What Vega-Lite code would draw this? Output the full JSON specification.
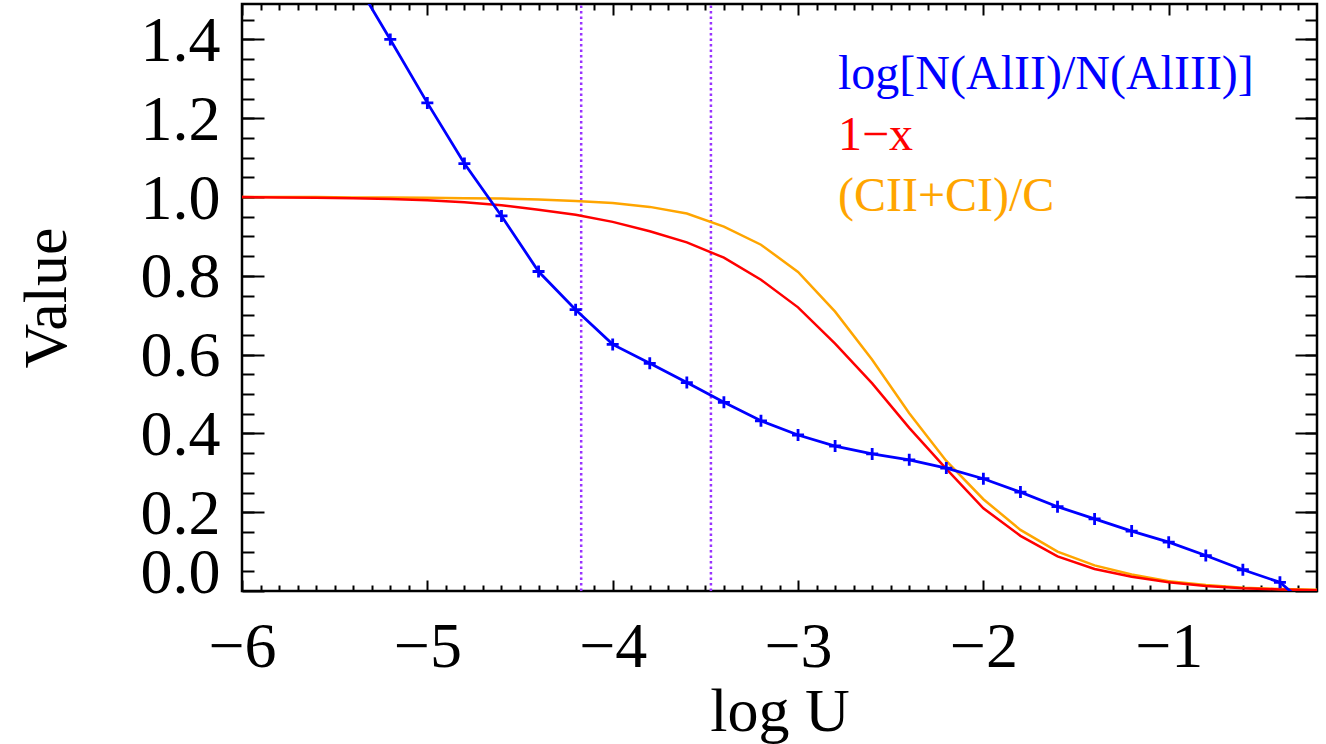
{
  "$schema": "https://vega.github.io/schema/vega-lite/v6.json",
  "width": 1075,
  "height": 587,
  "autosize": "none",
  "padding": {"left": 242, "top": 4, "right": 9, "bottom": 153},
  "background": "white",
  "config": {
    "view": {"stroke": "black", "strokeWidth": 2.5},
    "axis": {
      "grid": false, "domain": false,
      "labelFont": "Liberation Serif", "labelFontSize": 64, "labelColor": "black",
      "tickColor": "black", "tickWidth": 2,
      "titleFont": "Liberation Serif", "titleFontSize": 62, "titleFontWeight": "normal", "titleColor": "black",
      "labelFlush": false, "labelOverlap": false, "labelBound": false
    }
  },
  "datasets": {
    "curves": [
      {"series": "log[N(AlII)/N(AlIII)]", "logU": -5.4, "value": 1.558},
      {"series": "log[N(AlII)/N(AlIII)]", "logU": -5.2, "value": 1.400},
      {"series": "log[N(AlII)/N(AlIII)]", "logU": -5.0, "value": 1.239},
      {"series": "log[N(AlII)/N(AlIII)]", "logU": -4.8, "value": 1.085},
      {"series": "log[N(AlII)/N(AlIII)]", "logU": -4.6, "value": 0.952},
      {"series": "log[N(AlII)/N(AlIII)]", "logU": -4.4, "value": 0.811},
      {"series": "log[N(AlII)/N(AlIII)]", "logU": -4.2, "value": 0.714},
      {"series": "log[N(AlII)/N(AlIII)]", "logU": -4.0, "value": 0.626},
      {"series": "log[N(AlII)/N(AlIII)]", "logU": -3.8, "value": 0.578},
      {"series": "log[N(AlII)/N(AlIII)]", "logU": -3.6, "value": 0.529},
      {"series": "log[N(AlII)/N(AlIII)]", "logU": -3.4, "value": 0.479},
      {"series": "log[N(AlII)/N(AlIII)]", "logU": -3.2, "value": 0.432},
      {"series": "log[N(AlII)/N(AlIII)]", "logU": -3.0, "value": 0.396},
      {"series": "log[N(AlII)/N(AlIII)]", "logU": -2.8, "value": 0.368},
      {"series": "log[N(AlII)/N(AlIII)]", "logU": -2.6, "value": 0.348},
      {"series": "log[N(AlII)/N(AlIII)]", "logU": -2.4, "value": 0.333},
      {"series": "log[N(AlII)/N(AlIII)]", "logU": -2.2, "value": 0.312},
      {"series": "log[N(AlII)/N(AlIII)]", "logU": -2.0, "value": 0.285},
      {"series": "log[N(AlII)/N(AlIII)]", "logU": -1.8, "value": 0.251},
      {"series": "log[N(AlII)/N(AlIII)]", "logU": -1.6, "value": 0.214},
      {"series": "log[N(AlII)/N(AlIII)]", "logU": -1.4, "value": 0.183},
      {"series": "log[N(AlII)/N(AlIII)]", "logU": -1.2, "value": 0.152},
      {"series": "log[N(AlII)/N(AlIII)]", "logU": -1.0, "value": 0.124},
      {"series": "log[N(AlII)/N(AlIII)]", "logU": -0.8, "value": 0.090},
      {"series": "log[N(AlII)/N(AlIII)]", "logU": -0.6, "value": 0.054},
      {"series": "log[N(AlII)/N(AlIII)]", "logU": -0.4, "value": 0.022},
      {"series": "log[N(AlII)/N(AlIII)]", "logU": -0.2, "value": -0.058},
      {"series": "1−x", "logU": -6.0, "value": 1.000},
      {"series": "1−x", "logU": -5.8, "value": 0.999},
      {"series": "1−x", "logU": -5.6, "value": 0.998},
      {"series": "1−x", "logU": -5.4, "value": 0.997},
      {"series": "1−x", "logU": -5.2, "value": 0.995},
      {"series": "1−x", "logU": -5.0, "value": 0.992},
      {"series": "1−x", "logU": -4.8, "value": 0.987},
      {"series": "1−x", "logU": -4.6, "value": 0.979},
      {"series": "1−x", "logU": -4.4, "value": 0.968},
      {"series": "1−x", "logU": -4.2, "value": 0.955},
      {"series": "1−x", "logU": -4.0, "value": 0.937},
      {"series": "1−x", "logU": -3.8, "value": 0.913},
      {"series": "1−x", "logU": -3.6, "value": 0.885},
      {"series": "1−x", "logU": -3.4, "value": 0.846},
      {"series": "1−x", "logU": -3.2, "value": 0.790},
      {"series": "1−x", "logU": -3.0, "value": 0.720},
      {"series": "1−x", "logU": -2.8, "value": 0.628},
      {"series": "1−x", "logU": -2.6, "value": 0.527},
      {"series": "1−x", "logU": -2.4, "value": 0.414},
      {"series": "1−x", "logU": -2.2, "value": 0.310},
      {"series": "1−x", "logU": -2.0, "value": 0.210},
      {"series": "1−x", "logU": -1.8, "value": 0.140},
      {"series": "1−x", "logU": -1.6, "value": 0.088},
      {"series": "1−x", "logU": -1.4, "value": 0.056},
      {"series": "1−x", "logU": -1.2, "value": 0.036},
      {"series": "1−x", "logU": -1.0, "value": 0.022},
      {"series": "1−x", "logU": -0.8, "value": 0.013},
      {"series": "1−x", "logU": -0.6, "value": 0.007},
      {"series": "1−x", "logU": -0.4, "value": 0.004},
      {"series": "1−x", "logU": -0.2, "value": 0.002},
      {"series": "(CII+CI)/C", "logU": -6.0, "value": 1.000},
      {"series": "(CII+CI)/C", "logU": -5.8, "value": 1.000},
      {"series": "(CII+CI)/C", "logU": -5.6, "value": 1.000},
      {"series": "(CII+CI)/C", "logU": -5.4, "value": 0.999},
      {"series": "(CII+CI)/C", "logU": -5.2, "value": 0.999},
      {"series": "(CII+CI)/C", "logU": -5.0, "value": 0.998},
      {"series": "(CII+CI)/C", "logU": -4.8, "value": 0.997},
      {"series": "(CII+CI)/C", "logU": -4.6, "value": 0.996},
      {"series": "(CII+CI)/C", "logU": -4.4, "value": 0.994},
      {"series": "(CII+CI)/C", "logU": -4.2, "value": 0.990},
      {"series": "(CII+CI)/C", "logU": -4.0, "value": 0.985},
      {"series": "(CII+CI)/C", "logU": -3.8, "value": 0.975},
      {"series": "(CII+CI)/C", "logU": -3.6, "value": 0.958},
      {"series": "(CII+CI)/C", "logU": -3.4, "value": 0.925},
      {"series": "(CII+CI)/C", "logU": -3.2, "value": 0.879},
      {"series": "(CII+CI)/C", "logU": -3.0, "value": 0.810},
      {"series": "(CII+CI)/C", "logU": -2.8, "value": 0.709},
      {"series": "(CII+CI)/C", "logU": -2.6, "value": 0.587},
      {"series": "(CII+CI)/C", "logU": -2.4, "value": 0.451},
      {"series": "(CII+CI)/C", "logU": -2.2, "value": 0.330},
      {"series": "(CII+CI)/C", "logU": -2.0, "value": 0.233},
      {"series": "(CII+CI)/C", "logU": -1.8, "value": 0.155},
      {"series": "(CII+CI)/C", "logU": -1.6, "value": 0.100},
      {"series": "(CII+CI)/C", "logU": -1.4, "value": 0.065},
      {"series": "(CII+CI)/C", "logU": -1.2, "value": 0.042},
      {"series": "(CII+CI)/C", "logU": -1.0, "value": 0.025},
      {"series": "(CII+CI)/C", "logU": -0.8, "value": 0.015},
      {"series": "(CII+CI)/C", "logU": -0.6, "value": 0.008},
      {"series": "(CII+CI)/C", "logU": -0.4, "value": 0.005},
      {"series": "(CII+CI)/C", "logU": -0.2, "value": 0.003}
    ],
    "marks": [{"logU": -4.17}, {"logU": -3.47}]
  },
  "resolve": {"axis": {"x": "independent", "y": "independent"}},
  "layer": [
    {
      "data": {"name": "marks"},
      "mark": {"type": "rule", "color": "#9933ff", "strokeWidth": 2.5, "strokeDash": [2.5, 3], "clip": true},
      "encoding": {
        "x": {"field": "logU", "type": "quantitative", "scale": {"domain": [-6, -0.2], "nice": false, "zero": false},
          "axis": {"orient": "top", "values": [-5.9,-5.8,-5.7,-5.6,-5.5,-5.4,-5.3,-5.2,-5.1,-4.9,-4.8,-4.7,-4.6,-4.5,-4.4,-4.3,-4.2,-4.1,-3.9,-3.8,-3.7,-3.6,-3.5,-3.4,-3.3,-3.2,-3.1,-2.9,-2.8,-2.7,-2.6,-2.5,-2.4,-2.3,-2.2,-2.1,-1.9,-1.8,-1.7,-1.6,-1.5,-1.4,-1.3,-1.2,-1.1,-0.9,-0.8,-0.7,-0.6,-0.5,-0.4,-0.3], "labels": false, "tickSize": -6, "title": null}},
        "y": {"datum": 0, "type": "quantitative", "scale": {"domain": [0, 1.49], "nice": false, "zero": false},
          "axis": {"orient": "right", "values": [0.05,0.1,0.15,0.2,0.25,0.3,0.35,0.4,0.45,0.5,0.55,0.6,0.65,0.7,0.75,0.8,0.85,0.9,0.95,1.0,1.05,1.1,1.15,1.2,1.25,1.3,1.35,1.4,1.45], "labels": false, "tickSize": -12, "title": null}},
        "y2": {"datum": 1.49}
      }
    },
    {
      "data": {"name": "curves"},
      "transform": [{"filter": "datum.series === '(CII+CI)/C'"}],
      "mark": {"type": "line", "strokeWidth": 2.5, "clip": true},
      "encoding": {
        "x": {"field": "logU", "type": "quantitative", "scale": {"domain": [-6, -0.2], "nice": false, "zero": false},
          "axis": {"orient": "bottom", "values": [-6,-5,-4,-3,-2,-1], "format": "d", "ticks": false, "labelPadding": 75, "labelBaseline": "alphabetic",
            "title": "log U", "titleX": 537.5, "titleY": 139, "titleBaseline": "alphabetic", "titleAlign": "center"}},
        "y": {"field": "value", "type": "quantitative", "scale": {"domain": [0, 1.49], "nice": false, "zero": false},
          "axis": {"orient": "left", "values": [0,0.2,0.4,0.6,0.8,1.0,1.2,1.4], "format": ".1f", "ticks": false, "labelPadding": 22, "labelAlign": "right", "labelBaseline": "alphabetic",
            "labelOffset": {"condition": {"test": "datum.value == 0", "value": 1}, "value": 21},
            "title": "Value", "titleX": -177, "titleY": 293.5, "titleAngle": 270, "titleBaseline": "alphabetic", "titleAlign": "center"}},
        "color": {"field": "series", "type": "nominal",
          "scale": {"domain": ["log[N(AlII)/N(AlIII)]", "1−x", "(CII+CI)/C"], "range": ["#0000ff", "#ff0000", "#ffa500"]},
          "legend": {"title": null, "orient": "none", "legendX": 548, "legendY": 61, "direction": "vertical", "padding": 0,
            "symbolSize": 0, "symbolOpacity": 0, "symbolStrokeWidth": 0, "labelOffset": 0,
            "labelFont": "Liberation Serif", "labelFontSize": 48, "labelLimit": 1000, "rowPadding": 13, "labelBaseline": "alphabetic",
            "encode": {"labels": {"update": {"fill": {"scale": "color", "field": "value"}}}}}}
      }
    },
    {
      "data": {"name": "curves"},
      "transform": [{"filter": "datum.series === '1−x'"}],
      "mark": {"type": "line", "strokeWidth": 2.5, "clip": true},
      "encoding": {
        "x": {"field": "logU", "type": "quantitative", "scale": {"domain": [-6, -0.2], "nice": false, "zero": false},
          "axis": {"orient": "bottom", "values": [-6,-5,-4,-3,-2,-1], "labels": false, "tickSize": -11, "title": null}},
        "y": {"field": "value", "type": "quantitative", "scale": {"domain": [0, 1.49], "nice": false, "zero": false},
          "axis": {"orient": "left", "values": [0,0.2,0.4,0.6,0.8,1.0,1.2,1.4], "labels": false, "tickSize": -22, "title": null}},
        "color": {"field": "series", "type": "nominal",
          "scale": {"domain": ["log[N(AlII)/N(AlIII)]", "1−x", "(CII+CI)/C"], "range": ["#0000ff", "#ff0000", "#ffa500"]},
          "legend": {"title": null, "orient": "none", "legendX": 548, "legendY": 61, "direction": "vertical", "padding": 0,
            "symbolSize": 0, "symbolOpacity": 0, "symbolStrokeWidth": 0, "labelOffset": 0,
            "labelFont": "Liberation Serif", "labelFontSize": 48, "labelLimit": 1000, "rowPadding": 13, "labelBaseline": "alphabetic",
            "encode": {"labels": {"update": {"fill": {"scale": "color", "field": "value"}}}}}}
      }
    },
    {
      "data": {"name": "curves"},
      "transform": [{"filter": "datum.series === 'log[N(AlII)/N(AlIII)]'"}],
      "mark": {"type": "line", "strokeWidth": 2.8, "clip": true},
      "encoding": {
        "x": {"field": "logU", "type": "quantitative", "scale": {"domain": [-6, -0.2], "nice": false, "zero": false},
          "axis": {"orient": "bottom", "values": [-5.9,-5.8,-5.7,-5.6,-5.5,-5.4,-5.3,-5.2,-5.1,-4.9,-4.8,-4.7,-4.6,-4.5,-4.4,-4.3,-4.2,-4.1,-3.9,-3.8,-3.7,-3.6,-3.5,-3.4,-3.3,-3.2,-3.1,-2.9,-2.8,-2.7,-2.6,-2.5,-2.4,-2.3,-2.2,-2.1,-1.9,-1.8,-1.7,-1.6,-1.5,-1.4,-1.3,-1.2,-1.1,-0.9,-0.8,-0.7,-0.6,-0.5,-0.4,-0.3], "labels": false, "tickSize": -6, "title": null}},
        "y": {"field": "value", "type": "quantitative", "scale": {"domain": [0, 1.49], "nice": false, "zero": false},
          "axis": {"orient": "left", "values": [0.05,0.1,0.15,0.2,0.25,0.3,0.35,0.4,0.45,0.5,0.55,0.6,0.65,0.7,0.75,0.8,0.85,0.9,0.95,1.0,1.05,1.1,1.15,1.2,1.25,1.3,1.35,1.4,1.45], "labels": false, "tickSize": -12, "title": null}},
        "color": {"field": "series", "type": "nominal",
          "scale": {"domain": ["log[N(AlII)/N(AlIII)]", "1−x", "(CII+CI)/C"], "range": ["#0000ff", "#ff0000", "#ffa500"]},
          "legend": {"title": null, "orient": "none", "legendX": 548, "legendY": 61, "direction": "vertical", "padding": 0,
            "symbolSize": 0, "symbolOpacity": 0, "symbolStrokeWidth": 0, "labelOffset": 0,
            "labelFont": "Liberation Serif", "labelFontSize": 48, "labelLimit": 1000, "rowPadding": 13, "labelBaseline": "alphabetic",
            "encode": {"labels": {"update": {"fill": {"scale": "color", "field": "value"}}}}}}
      }
    },
    {
      "data": {"name": "curves"},
      "transform": [{"filter": "datum.series === 'log[N(AlII)/N(AlIII)]'"}],
      "mark": {"type": "point", "shape": "M-1,0L1,0M0,-1L0,1", "size": 144, "strokeWidth": 2.8, "filled": false, "opacity": 1, "clip": true},
      "encoding": {
        "x": {"field": "logU", "type": "quantitative", "scale": {"domain": [-6, -0.2], "nice": false, "zero": false},
          "axis": {"orient": "top", "values": [-6,-5,-4,-3,-2,-1], "labels": false, "tickSize": -11, "title": null}},
        "y": {"field": "value", "type": "quantitative", "scale": {"domain": [0, 1.49], "nice": false, "zero": false},
          "axis": {"orient": "right", "values": [0,0.2,0.4,0.6,0.8,1.0,1.2,1.4], "labels": false, "tickSize": -22, "title": null}},
        "color": {"field": "series", "type": "nominal",
          "scale": {"domain": ["log[N(AlII)/N(AlIII)]", "1−x", "(CII+CI)/C"], "range": ["#0000ff", "#ff0000", "#ffa500"]},
          "legend": {"title": null, "orient": "none", "legendX": 548, "legendY": 61, "direction": "vertical", "padding": 0,
            "symbolSize": 0, "symbolOpacity": 0, "symbolStrokeWidth": 0, "labelOffset": 0,
            "labelFont": "Liberation Serif", "labelFontSize": 48, "labelLimit": 1000, "rowPadding": 13, "labelBaseline": "alphabetic",
            "encode": {"labels": {"update": {"fill": {"scale": "color", "field": "value"}}}}}}
      }
    }
  ]
}
